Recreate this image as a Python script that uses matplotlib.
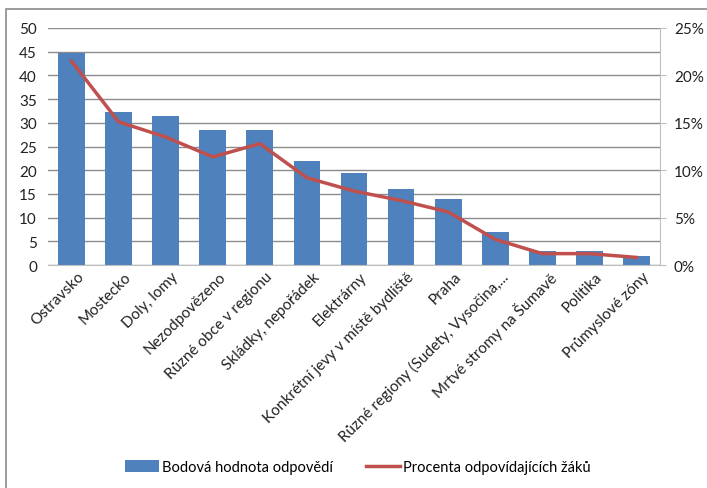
import matplotlib.pyplot as plt
import matplotlib.transforms as mtransforms
from matplotlib.patches import Rectangle
from matplotlib.ticker import PercentFormatter
import numpy as np

plt.rcParams['font.family'] = ['Lato', 'DejaVu Sans']

kategorie = ['Ostravsko', 'Mostecko', 'Doly, lomy', 'Nezodpovězeno',
             'Různé obce v regionu', 'Skládky, nepořádek', 'Elektrárny',
             'Konkrétní jevy v místě bydliště', 'Praha',
             'Různé regiony (Sudety, Vysočina,...', 'Mrtvé stromy na Šumavě',
             'Politika', 'Průmyslové zóny']
body = [44.8, 32.3, 31.5, 28.5, 28.4, 22.0, 19.5, 16.0, 14.0, 7.0, 3.0, 3.0, 2.0]
procenta = [21.5, 15.1, 13.5, 11.4, 12.8, 9.2, 7.8, 6.8, 5.6, 2.7, 1.2, 1.2, 0.8]

modra = '#4f81bd'
cervena = '#c0504d'
seda = '#8c8c8c'

fig = plt.figure(figsize=(7.07, 4.89), dpi=100)
# ramecek kolem celeho grafu
fig.patches.append(Rectangle((6 / 707, -0.1), 2, 1.1 - 10 / 489, transform=fig.transFigure,
                             fill=False, edgecolor='#8a8a8a', linewidth=1.2))

ax = fig.add_axes([48 / 707, 1 - 266 / 489, 612 / 707, 237 / 489])
x = np.arange(len(kategorie))
ax.bar(x, body, width=0.57, color=modra, zorder=2,
       label='Bodová hodnota odpovědí')
ax.set_xlim(-0.5, len(kategorie) - 0.5)
ax.set_ylim(0, 50)
ax.set_yticks(range(0, 51, 5))
ax.grid(axis='y', color=seda, linewidth=1, zorder=0)
for s in ['top', 'left', 'right']:
    ax.spines[s].set_visible(False)
ax.spines['bottom'].set_color('#bfbfbf')
ax.tick_params(axis='y', length=0, labelsize=11, pad=8, colors='#222222')
ax.tick_params(axis='x', length=0, labelsize=11, pad=3, colors='#222222')
ax.set_xticks(x)
ax.set_xticklabels(kategorie, rotation=45, ha='right', rotation_mode='anchor')
# popisky kategorii trochu doprava
posun = mtransforms.ScaledTranslation(4 / 72, 0, fig.dpi_scale_trans)
for lbl in ax.get_xticklabels():
    lbl.set_transform(lbl.get_transform() + posun)

ax2 = ax.twinx()
ax2.plot(x, procenta, color=cervena, linewidth=2.5, zorder=3,
         label='Procenta odpovídajících žáků')
ax2.set_ylim(0, 25)
ax2.set_yticks(range(0, 26, 5))
ax2.yaxis.set_major_formatter(PercentFormatter(decimals=0))
for s in ['top', 'left', 'bottom']:
    ax2.spines[s].set_visible(False)
ax2.spines['right'].set_color('#bfbfbf')
ax2.tick_params(axis='y', length=4, color='#bfbfbf', labelsize=11, pad=6, colors='#222222')
ax2.tick_params(axis='y', color='#bfbfbf')

h1, l1 = ax.get_legend_handles_labels()
h2, l2 = ax2.get_legend_handles_labels()
fig.legend(h1 + h2, l1 + l2, loc='center', bbox_to_anchor=(0.506, 1 - 468 / 489),
           ncol=2, frameon=False, fontsize=10.5, handlelength=2.3, handleheight=0.9,
           handletextpad=0.2, columnspacing=2.3)

fig.savefig('out.png', dpi=100)
